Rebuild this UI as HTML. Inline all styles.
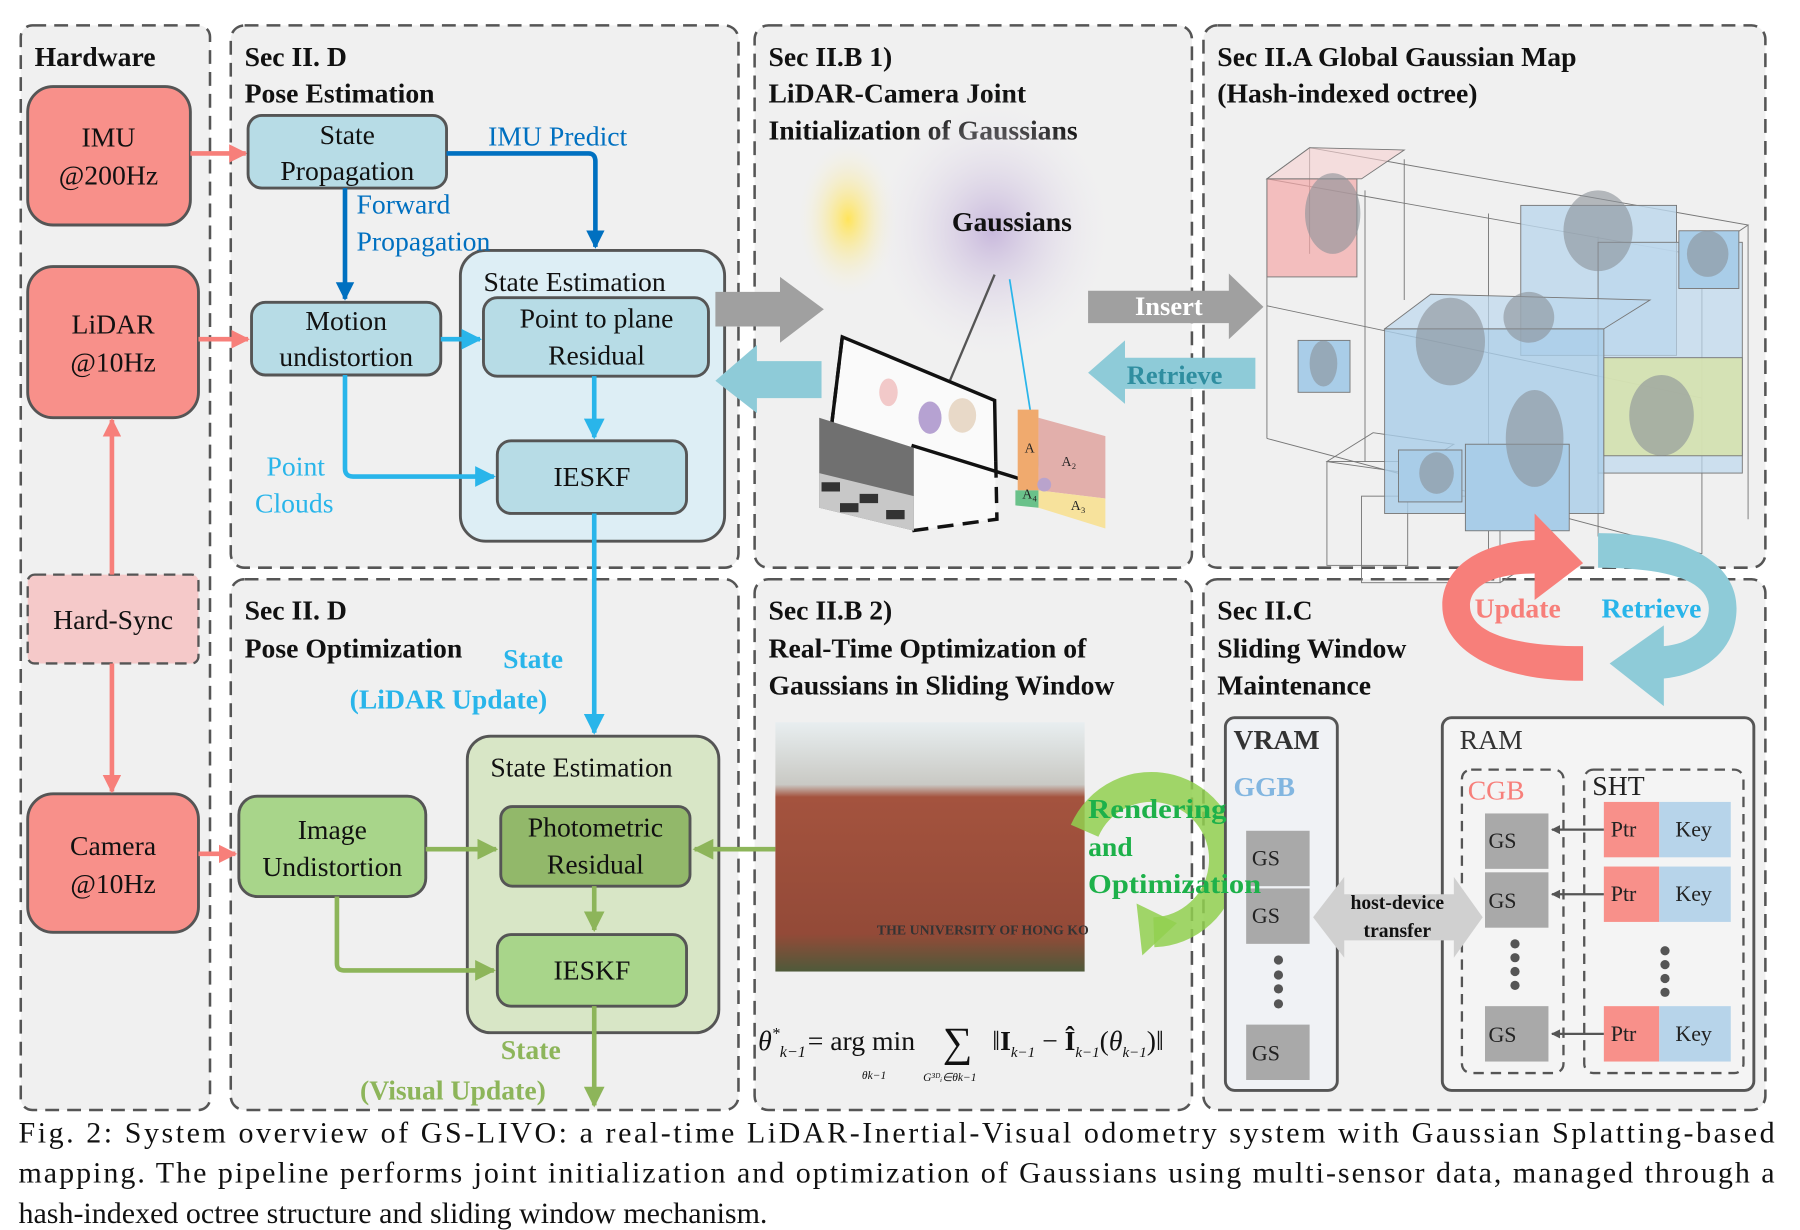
<!DOCTYPE html>
<html><head><meta charset="utf-8"><style>
html,body{margin:0;padding:0;background:#fff;}
svg{display:block;}
text{font-family:"Liberation Serif",serif;}
</style></head><body>
<svg width="1800" height="1230" viewBox="0 0 1560 1066" preserveAspectRatio="none" xmlns="http://www.w3.org/2000/svg">
<defs>
<marker id="ms" viewBox="0 0 10 10" refX="9" refY="5" markerWidth="4" markerHeight="4" orient="auto" markerUnits="strokeWidth"><path d="M0,0L10,5L0,10z" fill="#f77f7a"/></marker>
<marker id="mb" viewBox="0 0 10 10" refX="9" refY="5" markerWidth="4" markerHeight="4.5" orient="auto" markerUnits="strokeWidth"><path d="M0,0L10,5L0,10z" fill="#0070c0"/></marker>
<marker id="mc" viewBox="0 0 10 10" refX="9" refY="5" markerWidth="4.5" markerHeight="4.5" orient="auto" markerUnits="strokeWidth"><path d="M0,0L10,5L0,10z" fill="#29b5ea"/></marker>
<marker id="mg" viewBox="0 0 10 10" refX="9" refY="5" markerWidth="4.5" markerHeight="4.5" orient="auto" markerUnits="strokeWidth"><path d="M0,0L10,5L0,10z" fill="#8db55a"/></marker>
<marker id="mk" viewBox="0 0 10 10" refX="9" refY="5" markerWidth="4" markerHeight="4" orient="auto" markerUnits="strokeWidth"><path d="M0,0L10,5L0,10z" fill="#555"/></marker>
<radialGradient id="gy"><stop offset="0" stop-color="#ffe45a"/><stop offset="1" stop-color="#f2f2f2" stop-opacity="0"/></radialGradient>
<radialGradient id="gp"><stop offset="0" stop-color="#c8b8dc"/><stop offset="1" stop-color="#f2f2f2" stop-opacity="0"/></radialGradient>
<linearGradient id="brick" x1="0" y1="0" x2="0" y2="1"><stop offset="0" stop-color="#e8eef0"/><stop offset="0.25" stop-color="#c9c9c4"/><stop offset="0.3" stop-color="#a4533e"/><stop offset="0.85" stop-color="#934a38"/><stop offset="1" stop-color="#4e5a3a"/></linearGradient>
</defs>

<g fill="#f0f0f0" stroke="#555" stroke-width="2.2" stroke-dasharray="12,7">
<rect x="18" y="22" width="164" height="940" rx="10"/>
<rect x="200" y="22" width="440" height="470" rx="12"/>
<rect x="654" y="22" width="379" height="470" rx="12"/>
<rect x="1043" y="22" width="487" height="470" rx="12"/>
<rect x="200" y="502" width="440" height="460" rx="12"/>
<rect x="654" y="502" width="379" height="460" rx="12"/>
<rect x="1043" y="502" width="487" height="460" rx="12"/>
</g>

<g font-weight="bold" font-size="24" fill="#111">
<text x="30" y="57">Hardware</text>
<text x="212" y="57">Sec II. D</text><text x="212" y="89">Pose Estimation</text>
<text x="666" y="57">Sec II.B 1)</text><text x="666" y="89">LiDAR-Camera Joint</text><text x="666" y="121">Initialization of Gaussians</text>
<text x="1055" y="57">Sec II.A Global Gaussian Map</text><text x="1055" y="89">(Hash-indexed octree)</text>
<text x="212" y="537">Sec II. D</text><text x="212" y="570">Pose Optimization</text>
<text x="666" y="537">Sec II.B 2)</text><text x="666" y="570">Real-Time Optimization of</text><text x="666" y="602">Gaussians in Sliding Window</text>
<text x="1055" y="537">Sec II.C</text><text x="1055" y="570">Sliding Window</text><text x="1055" y="602">Maintenance</text>
</g>

<g stroke="#555" stroke-width="2.5">
<rect x="24" y="75" width="141" height="120" rx="22" fill="#f8908a"/>
<rect x="24" y="231" width="148" height="131" rx="22" fill="#f8908a"/>
<rect x="24" y="688" width="148" height="120" rx="22" fill="#f8908a"/>
</g>
<rect x="24" y="498" width="148" height="77" rx="6" fill="#f5c9c9" stroke="#555" stroke-width="2" stroke-dasharray="10,6"/>
<g font-size="24" text-anchor="middle" fill="#111">
<text x="94" y="127">IMU</text><text x="94" y="160">@200Hz</text>
<text x="98" y="289">LiDAR</text><text x="98" y="322">@10Hz</text>
<text x="98" y="545">Hard-Sync</text>
<text x="98" y="741">Camera</text><text x="98" y="774">@10Hz</text>
</g>
<g stroke="#f77f7a" stroke-width="4" fill="none">
<line x1="165" y1="133" x2="213" y2="133" marker-end="url(#ms)"/>
<line x1="172" y1="294" x2="215" y2="294" marker-end="url(#ms)"/>
<line x1="97" y1="498" x2="97" y2="364" marker-end="url(#ms)"/>
<line x1="97" y1="575" x2="97" y2="686" marker-end="url(#ms)"/>
<line x1="172" y1="740" x2="204" y2="740" marker-end="url(#ms)"/>
</g>

<rect x="399" y="217" width="229" height="252" rx="22" fill="#ddeef5" stroke="#555" stroke-width="2.5"/>
<g fill="#b7dce6" stroke="#555" stroke-width="2.5">
<rect x="215" y="100" width="172" height="63" rx="12"/>
<rect x="218" y="262" width="164" height="63" rx="12"/>
<rect x="419" y="258" width="195" height="68" rx="12"/>
<rect x="431" y="382" width="164" height="63" rx="12"/>
</g>
<g font-size="24" text-anchor="middle" fill="#111">
<text x="301" y="125">State</text><text x="301" y="156">Propagation</text>
<text x="300" y="286">Motion</text><text x="300" y="317">undistortion</text>
<text x="498" y="252">State Estimation</text>
<text x="517" y="284">Point to plane</text><text x="517" y="316">Residual</text>
<text x="513" y="421">IESKF</text>
</g>
<g fill="none" stroke-width="4">
<path d="M387,133 H510 Q516,133 516,140 V214" stroke="#0070c0" marker-end="url(#mb)"/>
<path d="M299,163 V259" stroke="#0070c0" marker-end="url(#mb)"/>
<path d="M382,294 H416" stroke="#29b5ea" marker-end="url(#mc)"/>
<path d="M515,326 V379" stroke="#29b5ea" marker-end="url(#mc)"/>
<path d="M299,325 V406 Q299,413 306,413 H428" stroke="#29b5ea" marker-end="url(#mc)"/>
<path d="M515,445 V635" stroke="#29b5ea" marker-end="url(#mc)"/>
</g>
<g font-size="24">
<text x="423" y="126" fill="#0070c0">IMU Predict</text>
<text x="309" y="185" fill="#0070c0">Forward</text><text x="309" y="217" fill="#0070c0">Propagation</text>
<text x="231" y="412" fill="#29b5ea">Point</text><text x="221" y="444" fill="#29b5ea">Clouds</text>
</g>

<path d="M620,253 H676 V240 L714,268 L676,297 V283 H620Z" fill="#a0a0a0"/>
<path d="M712,313 H656 V299 L620,330 L656,358 V345 H712Z" fill="#8ecbd8"/>

<ellipse cx="735" cy="190" rx="45" ry="70" fill="url(#gy)"/>
<ellipse cx="860" cy="200" rx="110" ry="120" fill="url(#gp)"/>
<text x="825" y="200" font-size="24" font-weight="bold" fill="#111">Gaussians</text>
<line x1="862" y1="238" x2="800" y2="385" stroke="#555" stroke-width="2"/>
<line x1="875" y1="242" x2="903" y2="420" stroke="#29b5ea" stroke-width="1.5"/>
<polygon points="730,292 862,347 863,450 790,460 712,440" fill="#fafafa"/>
<path d="M712,440 L730,292 L862,347 L863,400" fill="none" stroke="#111" stroke-width="3"/>
<path d="M863,400 L864,450 L790,460" fill="none" stroke="#111" stroke-width="3" stroke-dasharray="14,8"/>
<path d="M730,292 L712,440" fill="none" stroke="#111" stroke-width="3" stroke-dasharray="14,8"/>
<polygon points="710,362 792,388 792,460 710,440" fill="#707070"/>
<polygon points="710,410 792,430 792,460 710,440" fill="#c8c8c8"/>
<path d="M712,418 h16 v8 h-16z M745,428 h16 v8 h-16z M728,436 h16 v8 h-16z M768,442 h16 v8 h-16z" fill="#333"/>
<line x1="790" y1="386" x2="900" y2="420" stroke="#111" stroke-width="3" marker-end="url(#mk)"/>
<ellipse cx="806" cy="362" rx="10" ry="14" fill="#b6a2d2"/>
<ellipse cx="834" cy="360" rx="12" ry="15" fill="#e8d9c8"/>
<ellipse cx="770" cy="340" rx="8" ry="12" fill="#f2c9c9"/>
<polygon points="882,355 900,355 900,425 882,425" fill="#f0aa6e"/>
<polygon points="900,362 958,378 958,432 900,425" fill="#e2afab"/>
<polygon points="900,425 958,432 958,458 900,440" fill="#f7e29c"/>
<polygon points="880,425 900,425 900,440 880,438" fill="#6ac18a"/>
<g font-size="12" fill="#222"><text x="888" y="392">A</text><text x="920" y="404">A₂</text><text x="928" y="442">A₃</text><text x="886" y="432">A₄</text></g>
<circle cx="905" cy="420" r="6" fill="#b9a3cc"/>

<path d="M943,252 H1065 V237 L1095,266 L1065,294 V280 H943Z" fill="#a0a0a0"/>
<text x="1013" y="273" font-size="23" font-weight="bold" fill="#fff" text-anchor="middle">Insert</text>
<path d="M1088,310 H975 V295 L943,323 L975,350 V337 H1088Z" fill="#8ecbd8"/>
<text x="1018" y="333" font-size="23" font-weight="bold" fill="#2f8ea0" text-anchor="middle">Retrieve</text>

<g stroke="#777" stroke-width="0.8" fill="none">
<polygon points="1098,155 1135,128 1515,195 1475,222"/>
<line x1="1098" y1="155" x2="1098" y2="380"/>
<line x1="1475" y1="222" x2="1475" y2="480"/>
<line x1="1515" y1="195" x2="1515" y2="450"/>
<line x1="1098" y1="380" x2="1475" y2="480"/>
<line x1="1098" y1="265" x2="1475" y2="345"/>
<line x1="1183" y1="165" x2="1183" y2="400"/>
<line x1="1217" y1="138" x2="1217" y2="260"/>
<line x1="1290" y1="185" x2="1290" y2="500"/>
<line x1="1385" y1="205" x2="1385" y2="465"/>
<line x1="1135" y1="128" x2="1135" y2="220"/>
<rect x="1150" y="400" width="70" height="90"/>
<rect x="1180" y="430" width="120" height="75"/>
<polygon points="1150,400 1190,375 1260,385 1220,410"/>
<line x1="1300" y1="505" x2="1340" y2="480"/>
</g>
<g stroke="#777" stroke-width="0.8">
<rect x="1098" y="155" width="78" height="85" fill="#f3a8a8" fill-opacity="0.7"/>
<polygon points="1098,155 1135,128 1217,130 1180,155" fill="#f6d0d0" fill-opacity="0.6"/>
<rect x="1318" y="178" width="135" height="130" fill="#bcd7ec" fill-opacity="0.8"/>
<rect x="1385" y="210" width="125" height="200" fill="#bcd7ec" fill-opacity="0.7"/>
<rect x="1200" y="285" width="190" height="160" fill="#a9cde8" fill-opacity="0.8"/>
<polygon points="1200,285 1240,255 1430,260 1390,285" fill="#bcd7ec" fill-opacity="0.7"/>
<rect x="1125" y="295" width="45" height="45" fill="#a9cde8"/>
<rect x="1455" y="200" width="52" height="50" fill="#a9cde8"/>
<rect x="1270" y="385" width="90" height="75" fill="#a9cde8"/>
<rect x="1212" y="390" width="55" height="45" fill="#a9cde8"/>
<rect x="1390" y="310" width="120" height="85" fill="#d6e2ae" fill-opacity="0.9"/>
</g>
<g fill="#8b9198" fill-opacity="0.6">
<ellipse cx="1155" cy="185" rx="24" ry="35"/>
<ellipse cx="1385" cy="200" rx="30" ry="35"/>
<ellipse cx="1257" cy="296" rx="30" ry="38"/>
<ellipse cx="1325" cy="275" rx="22" ry="22"/>
<ellipse cx="1147" cy="315" rx="12" ry="20"/>
<ellipse cx="1480" cy="220" rx="18" ry="20"/>
<ellipse cx="1330" cy="380" rx="25" ry="42"/>
<ellipse cx="1245" cy="410" rx="15" ry="18"/>
<ellipse cx="1440" cy="360" rx="28" ry="35"/>
</g>

<path d="M1372,590 C1290,590 1250,560 1250,525 C1250,490 1285,470 1330,468 L1330,445 L1372,488 L1330,520 L1330,497 C1300,497 1274,505 1274,525 C1274,548 1310,560 1372,560 Z" fill="#f77f7a"/>
<path d="M1385,462 C1465,462 1505,490 1505,527 C1505,565 1475,585 1442,588 L1442,612 L1395,575 L1442,542 L1442,560 C1465,558 1481,545 1481,527 C1481,505 1450,492 1385,492 Z" fill="#8ecbd8"/>
<text x="1278" y="535" font-size="24" font-weight="bold" fill="#f77f7a" stroke="#f0f0f0" stroke-width="0.6" paint-order="stroke">Update</text>
<text x="1388" y="535" font-size="24" font-weight="bold" fill="#29b5ea">Retrieve</text>

<rect x="405" y="638" width="218" height="257" rx="20" fill="#d8e6c6" stroke="#555" stroke-width="2.5"/>
<g stroke="#555" stroke-width="2.5">
<rect x="207" y="690" width="162" height="87" rx="16" fill="#a8d58a"/>
<rect x="434" y="699" width="164" height="69" rx="10" fill="#92b86a"/>
<rect x="431" y="810" width="164" height="62" rx="12" fill="#a8d58a"/>
</g>
<g font-size="24" text-anchor="middle" fill="#111">
<text x="288" y="727">Image</text><text x="288" y="759">Undistortion</text>
<text x="504" y="673">State Estimation</text>
<text x="516" y="725">Photometric</text><text x="516" y="757">Residual</text>
<text x="513" y="849">IESKF</text>
</g>
<g fill="none" stroke="#8db55a" stroke-width="4">
<path d="M369,736 H430" marker-end="url(#mg)"/>
<path d="M292,777 V835 Q292,841 298,841 H428" marker-end="url(#mg)"/>
<path d="M515,768 V806" marker-end="url(#mg)"/>
<path d="M672,736 H602" marker-end="url(#mg)"/>
<path d="M515,872 V958" marker-end="url(#mg)"/>
</g>
<g font-size="24" font-weight="bold">
<text x="436" y="579" fill="#29b5ea">State</text>
<text x="303" y="614" fill="#29b5ea">(LiDAR Update)</text>
<text x="434" y="918" fill="#8db55a">State</text>
<text x="312" y="953" fill="#8db55a">(Visual Update)</text>
</g>

<rect x="672" y="626" width="268" height="216" fill="url(#brick)"/>
<text x="760" y="810" font-size="12" font-weight="bold" fill="#333">THE UNIVERSITY OF HONG KO</text>
<path d="M940,720 A63,63 0 1 1 1000,808" fill="none" stroke="#92d050" stroke-width="26" stroke-opacity="0.85"/>
<polygon points="985,783 1020,800 990,828" fill="#92d050" fill-opacity="0.85"/>
<g fill="#111">
<text x="657" y="910" font-size="24" font-style="italic">θ<tspan font-size="14" dy="-10">*</tspan><tspan font-size="14" dy="16">k−1</tspan></text>
<text x="700" y="910" font-size="24">= arg min</text>
<text x="747" y="935" font-size="10" font-style="italic">θk−1</text>
<text x="817" y="915" font-size="36">∑</text>
<text x="800" y="937" font-size="10" font-style="italic">G³ᴰᵢ∈θk−1</text>
<text x="860" y="910" font-size="24">‖<tspan font-weight="bold">I</tspan><tspan font-size="13" font-style="italic" dy="6">k−1</tspan><tspan dy="-6"> − </tspan><tspan font-weight="bold">Î</tspan><tspan font-size="13" font-style="italic" dy="6">k−1</tspan><tspan dy="-6">(</tspan><tspan font-style="italic">θ</tspan><tspan font-size="13" font-style="italic" dy="6">k−1</tspan><tspan dy="-6">)‖</tspan></text>
</g>

<rect x="1062" y="622" width="97" height="323" rx="8" fill="#f0f2f5" stroke="#555" stroke-width="2.5"/>
<rect x="1250" y="622" width="270" height="323" rx="8" fill="#f4f4f4" stroke="#555" stroke-width="2.5"/>
<text x="1069" y="649" font-size="24" font-weight="bold" fill="#333">VRAM</text>
<text x="1069" y="690" font-size="24" font-weight="bold" fill="#82b6e0">GGB</text>
<text x="1265" y="649" font-size="24" fill="#333">RAM</text>
<rect x="1267" y="667" width="88" height="263" rx="8" fill="none" stroke="#555" stroke-width="2" stroke-dasharray="9,6"/>
<rect x="1373" y="667" width="138" height="263" rx="8" fill="none" stroke="#555" stroke-width="2" stroke-dasharray="9,6"/>
<text x="1272" y="693" font-size="24" fill="#f77f7a">CGB</text>
<text x="1380" y="689" font-size="24" fill="#222">SHT</text>
<g fill="#a9a9a9">
<rect x="1080" y="720" width="55" height="48"/><rect x="1080" y="770" width="55" height="48"/><rect x="1080" y="888" width="55" height="48"/>
<rect x="1287" y="705" width="55" height="48"/><rect x="1287" y="756" width="55" height="48"/><rect x="1287" y="872" width="55" height="48"/>
</g>
<g font-size="19" fill="#222">
<text x="1085" y="750">GS</text><text x="1085" y="800">GS</text><text x="1085" y="919">GS</text>
<text x="1290" y="735">GS</text><text x="1290" y="787">GS</text><text x="1290" y="903">GS</text>
</g>
<g fill="#555"><circle cx="1108" cy="832" r="4"/><circle cx="1108" cy="845" r="4"/><circle cx="1108" cy="857" r="4"/><circle cx="1108" cy="870" r="4"/>
<circle cx="1313" cy="818" r="4"/><circle cx="1313" cy="830" r="4"/><circle cx="1313" cy="842" r="4"/><circle cx="1313" cy="854" r="4"/>
<circle cx="1443" cy="824" r="4"/><circle cx="1443" cy="836" r="4"/><circle cx="1443" cy="848" r="4"/><circle cx="1443" cy="860" r="4"/></g>
<path d="M1138,795 L1165,760 V775 H1260 V760 L1285,795 L1260,830 V815 H1165 V830Z" fill="#d0d0d0"/>
<text x="1211" y="788" font-size="17" font-weight="bold" text-anchor="middle" fill="#111">host-device</text>
<text x="1211" y="812" font-size="17" font-weight="bold" text-anchor="middle" fill="#111">transfer</text>
<g>
<rect x="1390" y="695" width="48" height="48" fill="#f8908a"/><rect x="1438" y="695" width="62" height="48" fill="#b7d4ea"/>
<rect x="1390" y="751" width="48" height="48" fill="#f8908a"/><rect x="1438" y="751" width="62" height="48" fill="#b7d4ea"/>
<rect x="1390" y="872" width="48" height="48" fill="#f8908a"/><rect x="1438" y="872" width="62" height="48" fill="#b7d4ea"/>
</g>
<g font-size="19" fill="#222">
<text x="1396" y="725">Ptr</text><text x="1452" y="725">Key</text>
<text x="1396" y="781">Ptr</text><text x="1452" y="781">Key</text>
<text x="1396" y="902">Ptr</text><text x="1452" y="902">Key</text>
</g>
<g stroke="#555" stroke-width="2" fill="none">
<line x1="1390" y1="719" x2="1345" y2="719" marker-end="url(#mk)"/>
<line x1="1390" y1="775" x2="1345" y2="775" marker-end="url(#mk)"/>
<line x1="1390" y1="896" x2="1345" y2="896" marker-end="url(#mk)"/>
</g>

<g font-size="24" font-weight="bold" fill="#1db14a">
<text x="943" y="709" textLength="120" lengthAdjust="spacingAndGlyphs">Rendering</text><text x="943" y="742">and</text><text x="943" y="774" textLength="150" lengthAdjust="spacingAndGlyphs">Optimization</text>
</g>

<g font-size="26" fill="#111">
<text x="16" y="990" textLength="1522" lengthAdjust="spacing">Fig. 2: System overview of GS-LIVO: a real-time LiDAR-Inertial-Visual odometry system with Gaussian Splatting-based</text>
<text x="16" y="1025" textLength="1522" lengthAdjust="spacing">mapping. The pipeline performs joint initialization and optimization of Gaussians using multi-sensor data, managed through a</text>
<text x="16" y="1060">hash-indexed octree structure and sliding window mechanism.</text>
</g>
</svg>
</body></html>
